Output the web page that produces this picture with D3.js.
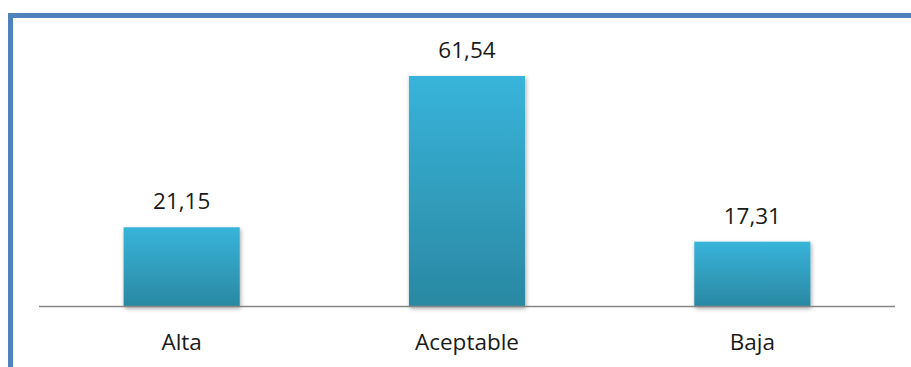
<!DOCTYPE html>
<html>
<head>
  <meta charset="utf-8">
  <script src="https://d3js.org/d3.v7.min.js"></script>
  <style>
    body { margin: 0; background: #fff; }
  </style>
</head>
<body>
  <div id="chart"></div>
<script>

  // data
  var categories = ["Alta", "Aceptable", "Baja"];
  var values = [21.15, 61.54, 17.31];
  var labels = ["21,15", "61,54", "17,31"];

  var W = 911, H = 367;
  var margin = {top: 0, left: 39, right: 16},
      baseY = 306.5;

  var svg = d3.select("#chart").append("svg")
      .attr("width", W).attr("height", H)
      .style("font-family", "'Open Sans', sans-serif");

  var defs = svg.append("defs");
  var grad = defs.append("linearGradient")
      .attr("id", "barGrad").attr("x1", 0).attr("y1", 0).attr("x2", 0).attr("y2", 1);
  grad.append("stop").attr("offset", "0%").attr("stop-color", "#38b4da");
  grad.append("stop").attr("offset", "100%").attr("stop-color", "#2a88a2");

  var shadow = defs.append("filter").attr("id", "shadow")
      .attr("x", "-10%").attr("y", "-10%").attr("width", "130%").attr("height", "130%");
  shadow.append("feDropShadow")
      .attr("dx", 1).attr("dy", 2).attr("stdDeviation", 2)
      .attr("flood-color", "#000").attr("flood-opacity", 0.35);

  // frame (blue border, cut off at the right and bottom)
  svg.append("rect")
      .attr("x", 10.5).attr("y", 15.5)
      .attr("width", W + 20).attr("height", H + 20)
      .attr("fill", "none")
      .attr("stroke", "#4f81bd")
      .attr("stroke-width", 5);

  var x = d3.scaleBand()
      .domain(categories)
      .range([margin.left, W - margin.right])
      .paddingInner(0.593)
      .paddingOuter(0.2965);

  var y = d3.scaleLinear()
      .domain([0, 61.54])
      .range([baseY, 76]);

  // bars
  svg.selectAll(".bar")
    .data(values)
    .enter().append("rect")
      .attr("class", "bar")
      .attr("x", function(d, i) { return x(categories[i]); })
      .attr("y", function(d) { return y(d); })
      .attr("width", x.bandwidth())
      .attr("height", function(d) { return baseY - y(d); })
      .attr("fill", "url(#barGrad)")
      .attr("filter", "url(#shadow)");

  // baseline
  svg.append("line")
      .attr("x1", margin.left).attr("x2", W - margin.right)
      .attr("y1", baseY).attr("y2", baseY)
      .attr("stroke", "#868686").attr("stroke-width", 1.5);

  // value labels
  svg.selectAll(".val")
    .data(values)
    .enter().append("text")
      .attr("class", "val")
      .attr("x", function(d, i) { return x(categories[i]) + x.bandwidth() / 2; })
      .attr("y", function(d) { return y(d) - 18; })
      .attr("text-anchor", "middle")
      .attr("font-size", 22.5)
      .attr("fill", "#1a1a1a")
      .text(function(d, i) { return labels[i]; });

  // category labels
  svg.selectAll(".cat")
    .data(categories)
    .enter().append("text")
      .attr("class", "cat")
      .attr("x", function(d) { return x(d) + x.bandwidth() / 2; })
      .attr("y", 350)
      .attr("text-anchor", "middle")
      .attr("font-size", 22.5)
      .attr("fill", "#1a1a1a")
      .text(function(d) { return d; });

</script>
</body>
</html>
